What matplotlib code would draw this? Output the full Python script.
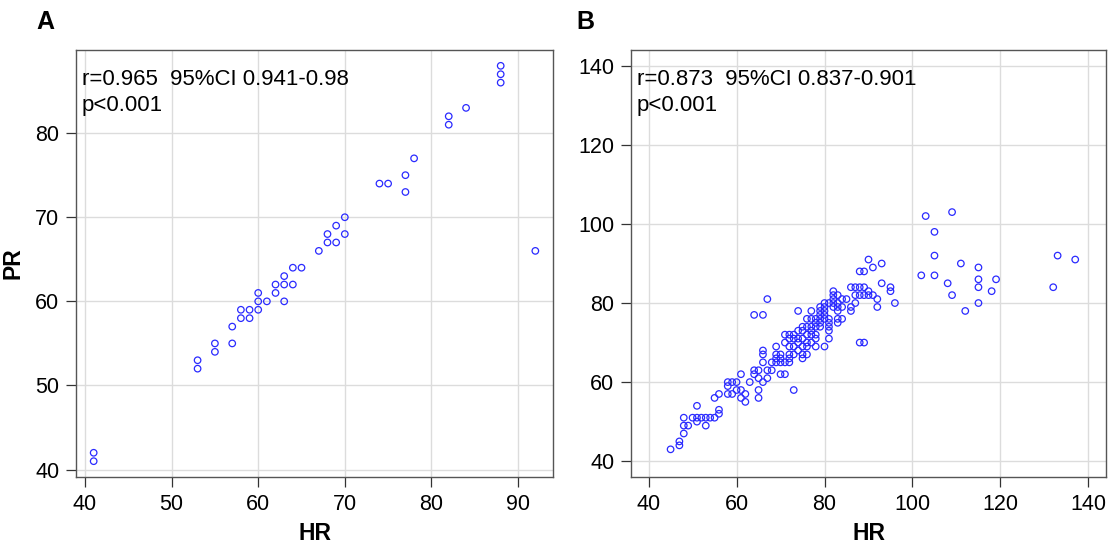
import matplotlib

matplotlib.use("Agg")
import matplotlib.pyplot as plt

plt.rcParams["font.family"] = ["Liberation Sans", "DejaVu Sans"]

# Panel A: HR vs PR (small sample)
hr_a = [41, 41, 53, 53, 55, 55, 57, 57, 58, 58, 59, 59, 60, 60, 60, 61,
        62, 62, 63, 63, 63, 64, 64, 65, 67, 68, 68, 69, 69, 70, 70,
        74, 75, 77, 77, 78, 82, 82, 84, 88, 88, 88, 92]
pr_a = [42, 41, 53, 52, 55, 54, 57, 55, 59, 58, 59, 58, 61, 60, 59, 60,
        62, 61, 63, 62, 60, 62, 64, 64, 66, 68, 67, 69, 67, 70, 68,
        74, 74, 75, 73, 77, 82, 81, 83, 88, 87, 86, 66]

# Panel B: HR vs PR (larger sample)
hr_b = [45, 47, 47, 48, 48, 49, 48, 50, 51, 52, 53, 54, 55, 51, 53, 51, 56, 56, 55, 56,
        58, 59, 60, 61, 61, 62, 62, 58, 58, 59, 60, 61, 63, 64, 64, 65, 65, 65, 65, 66,
        67, 67, 68, 66, 66, 66, 68, 69, 69, 70, 70, 70, 69, 71, 69, 70, 71, 72, 72, 72,
        72, 73, 71, 72, 72, 71, 73, 73, 73, 74, 74, 74, 75, 75, 75, 75, 75, 75, 76, 76,
        77, 74, 76, 77, 77, 77, 78, 78, 77, 78, 79, 79, 79, 80, 80, 80, 80, 78, 80, 81,
        81, 81, 81, 81, 82, 82, 82, 82, 82, 83, 83, 83, 83, 84, 84, 85, 83, 84, 86, 86,
        87, 87, 88, 89, 89, 88, 86, 87, 88, 89, 90, 88, 89, 67, 64, 66,
        91, 93, 93, 90, 91, 92, 95, 95, 96, 92, 90, 83,
        76, 76, 77, 79, 78, 74, 73, 76, 78, 79, 80, 81, 79,
        103, 109, 105, 105, 102, 105, 108, 109, 111, 112, 115, 115, 115, 115, 119, 118,
        133, 137, 132]
pr_b = [43, 44, 45, 47, 49, 49, 51, 51, 51, 51, 51, 51, 51, 50, 49, 54, 52, 53, 56, 57,
        57, 57, 58, 58, 56, 57, 55, 59, 60, 60, 60, 62, 60, 63, 62, 63, 61, 58, 56, 60,
        61, 63, 63, 65, 67, 68, 65, 66, 65, 67, 66, 65, 67, 65, 69, 62, 62, 65, 66, 67,
        69, 58, 70, 71, 72, 72, 67, 69, 71, 68, 71, 73, 66, 67, 69, 71, 73, 74, 67, 70,
        70, 78, 76, 76, 78, 72, 72, 74, 74, 75, 74, 76, 77, 77, 78, 79, 80, 69, 69, 71,
        73, 74, 75, 76, 79, 80, 81, 82, 83, 78, 79, 80, 82, 79, 81, 81, 75, 76, 79, 78,
        80, 82, 82, 82, 84, 84, 84, 84, 88, 88, 91, 70, 70, 81, 77, 77,
        89, 90, 85, 83, 82, 81, 84, 83, 80, 79, 82, 76,
        72, 74, 73, 78, 76, 70, 72, 69, 71, 79, 76, 80, 75,
        102, 103, 98, 92, 87, 87, 85, 82, 90, 78, 89, 86, 84, 80, 86, 83,
        92, 91, 84]

stats_a = ["r=0.965  95%CI 0.941-0.98", "p<0.001"]
stats_b = ["r=0.873  95%CI 0.837-0.901", "p<0.001"]

W, H = 1110, 543
fig = plt.figure(figsize=(W / 100, H / 100), dpi=100)


def panel(rect, x, y, xlim, ylim, xticks, yticks, stats, ylabel=None):
    ax = fig.add_axes(rect)
    ax.scatter(x, y, s=22, facecolors="none", edgecolors="#2a2aff",
               linewidths=0.9, zorder=3)
    ax.set_xlim(*xlim)
    ax.set_ylim(*ylim)
    ax.set_xticks(xticks)
    ax.set_yticks(yticks)
    ax.grid(True, color="#dcdcdc", lw=1.0, zorder=0)
    ax.set_axisbelow(True)
    for sp in ax.spines.values():
        sp.set_color("#555555")
        sp.set_linewidth(1.0)
    ax.tick_params(direction="out", length=7, width=0.9, color="#333333",
                   labelsize=15.5, pad=5, top=False, right=False)
    ax.text(0.012, 0.932, stats[0], transform=ax.transAxes, fontsize=16,
            va="center", ha="left")
    ax.text(0.012, 0.870, stats[1], transform=ax.transAxes, fontsize=16,
            va="center", ha="left")
    ax.set_xlabel("HR", fontsize=16.5, fontweight="bold", labelpad=5)
    if ylabel:
        ax.set_ylabel(ylabel, fontsize=16.5, fontweight="bold", labelpad=8)
    return ax


bottom = (H - 477) / H
height = 427 / H
panel([76 / W, bottom, 477 / W, height], hr_a, pr_a, (38.96, 94.04), (39.12, 89.88),
      range(40, 91, 10), range(40, 81, 10), stats_a, ylabel="PR")
panel([631 / W, bottom, 475 / W, height], hr_b, pr_b, (36, 144), (36, 144),
      range(40, 141, 20), range(40, 141, 20), stats_b)

fig.text(45 / W, 1 - 22 / H, "A", fontsize=18, fontweight="bold", ha="center", va="center")
fig.text(585 / W, 1 - 22 / H, "B", fontsize=18, fontweight="bold", ha="center", va="center")

fig.savefig("out.png", dpi=100)
